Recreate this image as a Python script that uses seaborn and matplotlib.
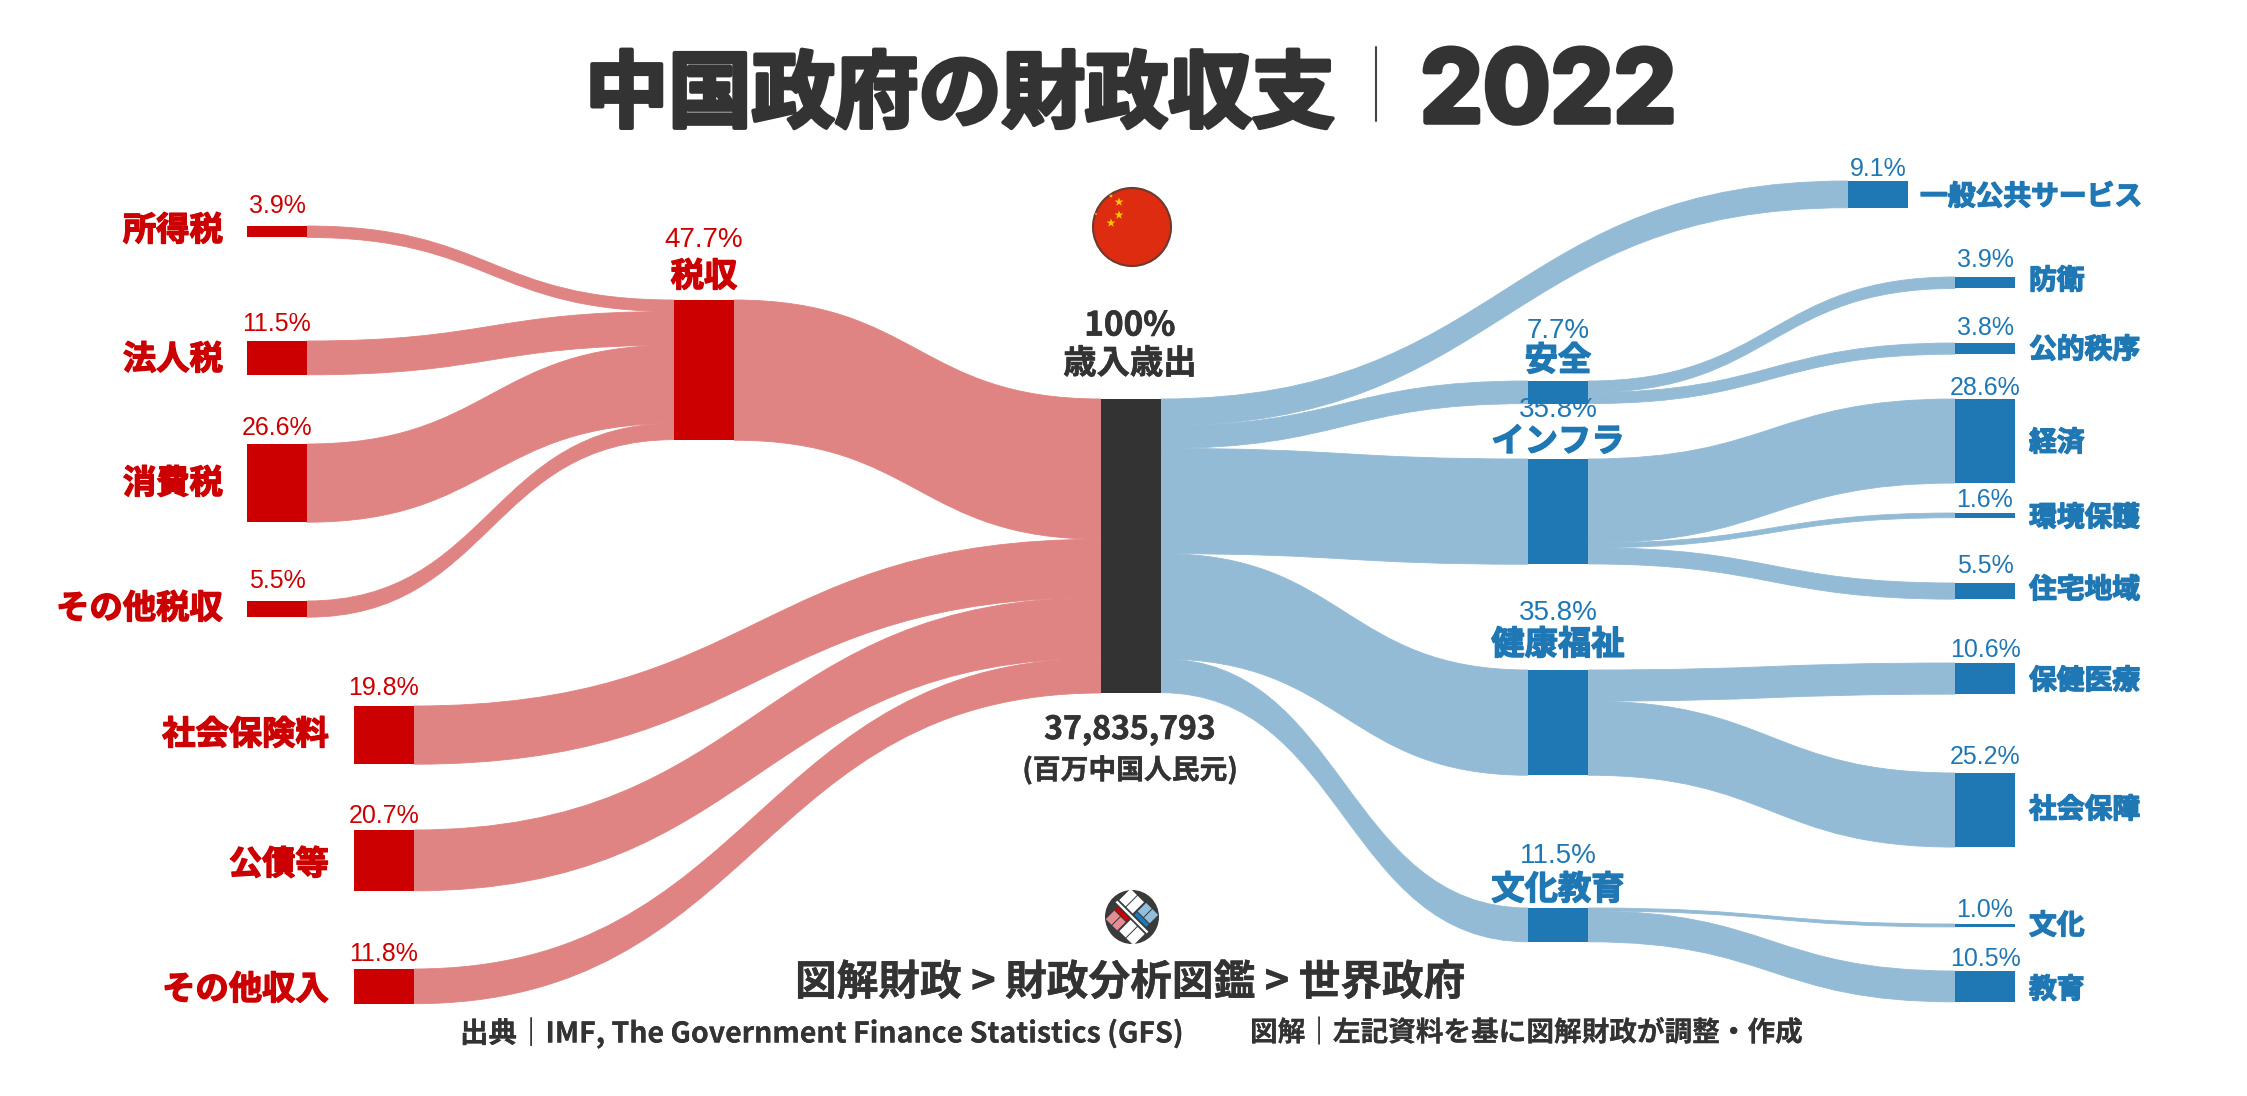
"""
China government fiscal balance 2022 - sankey drawn with seaborn bars and bezier ribbons
"""

import numpy as np
import matplotlib
matplotlib.use("Agg")
import matplotlib.pyplot as plt
import matplotlib.patheffects as pe
from matplotlib.path import Path
from matplotlib.patches import PathPatch, Circle, Polygon
import seaborn as sns

# ============================================================================
# DATA (percent of total revenue / expenditure)
# ============================================================================

TITLE = "中国政府の財政収支"
YEAR = "2022"
TOTAL_VALUE = "37,835,793"
TOTAL_UNIT = "(百万中国人民元)"

total_pct = 100
tax_total_pct = 47.7
tax_labels = ["所得税", "法人税", "消費税", "その他税収"]
tax_pct = [3.9, 11.5, 26.6, 5.5]
other_labels = ["社会保険料", "公債等", "その他収入"]
other_pct = [19.8, 20.7, 11.8]

general_label = "一般公共サービス"
general_pct = 9.1
group_labels = ["安全", "インフラ", "健康福祉", "文化教育"]
group_pct = [7.7, 35.8, 35.8, 11.5]
child_labels = [["防衛", "公的秩序"], ["経済", "環境保護", "住宅地域"],
                ["保健医療", "社会保障"], ["文化", "教育"]]
child_pct = [[3.9, 3.8], [28.6, 1.6, 5.5], [10.6, 25.2], [1.0, 10.5]]

# ============================================================================
# LAYOUT (pixels of the 2247x1096 picture)
# ============================================================================

W, H = 2247, 1096
PX_PER_PCT = 2.94  # 100% node is 294 px tall
NODE_W = 60

X_TAX, X_OTHER, X_TAXSUM, X_CENTER = 247, 354, 674, 1101
X_GROUP, X_GENERAL, X_CHILD = 1528, 1848, 1955

CENTER_TOP = 399
TAXSUM_TOP = 300
GENERAL_TOP = 181
tax_tops = [226, 341, 444, 601]
other_tops = [706, 830, 969]
group_tops = [381, 459, 670, 908]
child_tops = [[277, 343], [399, 513, 583], [663, 773], [924, 971]]

tax_pct_base = [213, 331, 435, 588]
tax_label_y = [231, 360, 484, 609]
other_pct_base = [695, 823, 961]
other_label_y = [735, 865, 990]
group_pct_base = [338, 417, 620, 863]
group_label_y = [361, 442, 645, 890]
child_pct_base = [[267, 335], [395, 507, 573], [657, 764], [917, 966]]
child_label_y = [[281, 350], [443, 518, 590], [681, 810], [926, 990]]

RED, RED_LINK = "#cc0000", "#e08383"
BLUE, BLUE_LINK = "#1f77b4", "#94bbd6"
DARK = "#333333"

CJK = ["Noto Sans CJK JP", "DejaVu Sans"]
PCT_FONT = "Liberation Sans"

# ============================================================================
# DRAWING HELPERS
# ============================================================================

sns.set_theme(style="white")
plt.rcParams["font.family"] = CJK

fig = plt.figure(figsize=(W / 100, H / 100), dpi=100, facecolor="white")
ax = fig.add_axes([0, 0, 1, 1])   # y axis in percent points
px = fig.add_axes([0, 0, 1, 1])   # overlay in pixels for text and icons
px.patch.set_alpha(0)


def y_of(pixel):
    return pixel / PX_PER_PCT


def draw_node(x, top, pct, color):
    sns.barplot(x=[x + NODE_W / 2], y=[pct], bottom=y_of(top), width=NODE_W,
                native_scale=True, color=color, saturation=1, errorbar=None,
                linewidth=0, ax=ax, zorder=3)


def draw_link(x0, y0, x1, y1, pct, color):
    """Ribbon of constant height, y0 / y1 are top edges in percent points"""
    mid = (x0 + x1) / 2
    verts = [(x0, y0), (mid, y0), (mid, y1), (x1, y1),
             (x1, y1 + pct), (mid, y1 + pct), (mid, y0 + pct), (x0, y0 + pct),
             (x0, y0)]
    codes = [Path.MOVETO, Path.CURVE4, Path.CURVE4, Path.CURVE4,
             Path.LINETO, Path.CURVE4, Path.CURVE4, Path.CURVE4, Path.CLOSEPOLY]
    ax.add_patch(PathPatch(Path(verts, codes), facecolor=color, edgecolor=color,
                           lw=0.6, zorder=2))


def pct_text(x, y, pct, color, size=18):
    px.text(x, y, f"{pct}%", color=color, fontsize=size, family=PCT_FONT,
            ha="center", va="baseline", zorder=6)


def bold_text(x, y, s, color, size=24, ha="center", stroke=1.0):
    t = px.text(x, y, s, color=color, fontsize=size, fontweight="bold",
                ha=ha, va="center", zorder=6)
    t.set_path_effects([pe.withStroke(linewidth=stroke, foreground=color)])


# ============================================================================
# NODES AND RIBBONS
# ============================================================================

# left side
stack = y_of(TAXSUM_TOP)
for top, pct in zip(tax_tops, tax_pct):
    draw_node(X_TAX, top, pct, RED)
    draw_link(X_TAX + NODE_W, y_of(top), X_TAXSUM, stack, pct, RED_LINK)
    stack += pct

stack = y_of(CENTER_TOP)
draw_node(X_TAXSUM, TAXSUM_TOP, tax_total_pct, RED)
draw_link(X_TAXSUM + NODE_W, y_of(TAXSUM_TOP), X_CENTER, stack, tax_total_pct, RED_LINK)
stack += tax_total_pct

for top, pct in zip(other_tops, other_pct):
    draw_node(X_OTHER, top, pct, RED)
    draw_link(X_OTHER + NODE_W, y_of(top), X_CENTER, stack, pct, RED_LINK)
    stack += pct

draw_node(X_CENTER, CENTER_TOP, total_pct, DARK)

# right side
stack = y_of(CENTER_TOP)
draw_node(X_GENERAL, GENERAL_TOP, general_pct, BLUE)
draw_link(X_CENTER + NODE_W, stack, X_GENERAL, y_of(GENERAL_TOP), general_pct, BLUE_LINK)
stack += general_pct

for top, pct, c_tops, c_pct in zip(group_tops, group_pct, child_tops, child_pct):
    draw_node(X_GROUP, top, pct, BLUE)
    draw_link(X_CENTER + NODE_W, stack, X_GROUP, y_of(top), pct, BLUE_LINK)
    stack += pct
    c_stack = y_of(top)
    for c_top, c in zip(c_tops, c_pct):
        draw_node(X_CHILD, c_top, c, BLUE)
        draw_link(X_GROUP + NODE_W, c_stack, X_CHILD, y_of(c_top), c, BLUE_LINK)
        c_stack += c

ax.set_xlim(0, W)
ax.set_ylim(y_of(H), 0)
ax.axis("off")
px.set_xlim(0, W)
px.set_ylim(H, 0)
px.axis("off")

# ============================================================================
# TEXT
# ============================================================================

for label, pct, base, ly in zip(tax_labels, tax_pct, tax_pct_base, tax_label_y):
    pct_text(X_TAX + NODE_W / 2, base, pct, RED)
    bold_text(223, ly, label, RED, ha="right")

for label, pct, base, ly in zip(other_labels, other_pct, other_pct_base, other_label_y):
    pct_text(X_OTHER + NODE_W / 2, base, pct, RED)
    bold_text(329, ly, label, RED, ha="right")

pct_text(X_TAXSUM + NODE_W / 2, 247, tax_total_pct, RED, size=20)
bold_text(X_TAXSUM + NODE_W / 2, 277, "税収", RED)

pct_text(X_GENERAL + NODE_W / 2, 176, general_pct, BLUE)
bold_text(1920, 197, general_label, BLUE, size=20, ha="left")

for i, label in enumerate(group_labels):
    pct_text(X_GROUP + NODE_W / 2, group_pct_base[i], group_pct[i], BLUE, size=20)
    bold_text(X_GROUP + NODE_W / 2, group_label_y[i], label, BLUE)
    for j, c_label in enumerate(child_labels[i]):
        pct_text(X_CHILD + NODE_W / 2, child_pct_base[i][j], child_pct[i][j], BLUE)
        bold_text(2029, child_label_y[i][j], c_label, BLUE, size=20, ha="left")

bold_text(1130, 326, f"{total_pct}%", DARK, stroke=0.5)
bold_text(1130, 364, "歳入歳出", DARK, stroke=0.5)
bold_text(1130, 730, TOTAL_VALUE, DARK, size=23, stroke=0.4)
bold_text(1130, 770, TOTAL_UNIT, DARK, size=20, stroke=0.3)

# title
bold_text(585, 96, TITLE, DARK, size=60, ha="left", stroke=3)
px.plot([1376, 1376], [47, 121], color="#444444", lw=1.5, zorder=6)
year = px.text(1420, 96, YEAR, color=DARK, fontsize=72, fontweight="bold", family="Inter",
               ha="left", va="center", zorder=6)
year.set_path_effects([pe.withStroke(linewidth=4, foreground=DARK)])

# footer
bold_text(1130, 983, "図解財政 > 財政分析図鑑 > 世界政府", DARK, size=30, stroke=0.3)
bold_text(460, 1033, "出典｜IMF, The Government Finance Statistics (GFS)", DARK, size=20.5, ha="left", stroke=0.1)
bold_text(1250, 1033, "図解｜左記資料を基に図解財政が調整・作成", DARK, size=19.9, ha="left", stroke=0.1)

# ============================================================================
# ICONS
# ============================================================================

# flag
px.add_patch(Circle((1132, 227), 39, facecolor="#de2c10", edgecolor="#6b3a30", lw=1.5, zorder=5))
star_x = [1119, 1119, 1111, 1111, 1096]
star_y = [202, 215, 223, 196, 214]
star_s = [45, 45, 45, 10, 5]
sns.scatterplot(x=star_x, y=star_y, s=star_s, marker="*", color="#ffcc00",
                linewidth=0, ax=px, zorder=6, legend=False)
px.set_xlim(0, W)
px.set_ylim(H, 0)
px.axis("off")

# logo
LOGO_X, LOGO_Y = 1132, 917
px.add_patch(Circle((LOGO_X, LOGO_Y), 27, facecolor="#3a3a3a", edgecolor="none", zorder=5))


def logo_cell(u0, u1, v0, v1, color):
    # u runs down-right, v runs up-right
    s = np.sqrt(0.5)
    pts = [(LOGO_X + (u + v) * s, LOGO_Y + (u - v) * s)
           for u, v in [(u0, v0), (u1, v0), (u1, v1), (u0, v1)]]
    px.add_patch(Polygon(pts, facecolor=color, edgecolor="none", zorder=6))


logo_cell(-22, 22, -1.2, 1.2, "white")
logo_cell(-21, -12, 3, 19, "white")
logo_cell(-11, -2, 3, 19, "white")
logo_cell(0, 8, 8, 20, "#8fbfdc")
logo_cell(9, 17, 8, 20, "#8fbfdc")
logo_cell(0, 17, 3, 7, BLUE)
logo_cell(-17, -1, -7, -3, RED)
logo_cell(-17, -9, -20, -8, "#e58c94")
logo_cell(-8, -1, -20, -8, "#e58c94")
logo_cell(1, 10, -19, -3, "white")
logo_cell(11, 21, -19, -3, "white")

fig.savefig("out.png", dpi=100, facecolor="white")
